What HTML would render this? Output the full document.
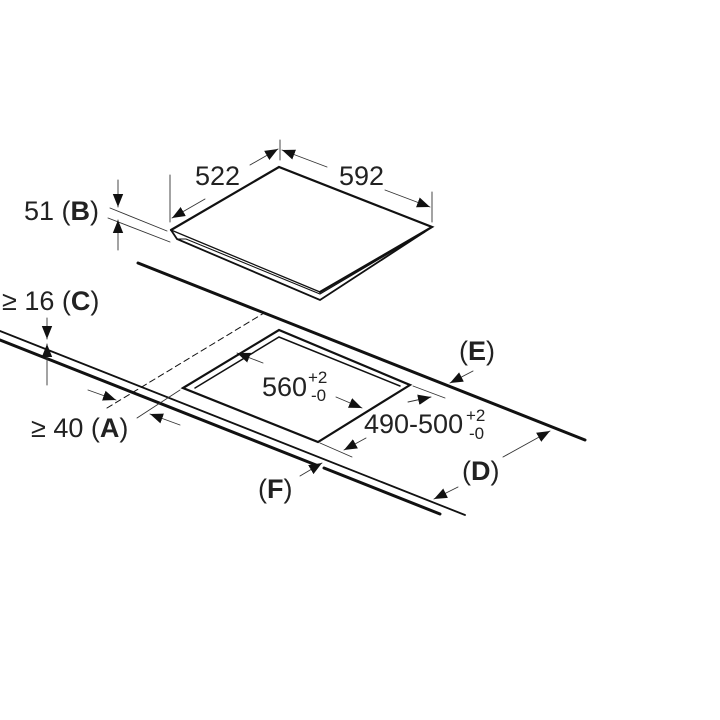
<!DOCTYPE html>
<html><head><style>html,body{margin:0;padding:0;background:#fff}svg{display:block}text{font-family:"Liberation Sans",sans-serif;fill:#222}</style></head><body>
<svg width="720" height="720" viewBox="0 0 720 720" xmlns="http://www.w3.org/2000/svg">
<defs><marker id="a" viewBox="0 0 10 10" refX="10" refY="5" markerWidth="13" markerHeight="13" orient="auto-start-reverse" markerUnits="userSpaceOnUse"><path d="M0,1 L10,5 L0,9 z" fill="#111"/></marker></defs>
<g stroke="#111" fill="none" stroke-linecap="round">
<!-- hob -->
<path d="M171,230 L279,167 L432,227 L320,292" stroke-width="2.2" fill="#fff"/>
<path d="M171,230 L320,292" stroke-width="1.3"/>
<path d="M171,230 L177,239 L320,300 L432,227" stroke-width="1.8"/>
<path d="M177,239 L186,239 L320,294 L425,232" stroke-width="1.1"/>
<!-- countertop -->
<path d="M138,263 L585,440" stroke-width="3"/>
<path d="M0,331 L465,515" stroke-width="1.8"/>
<path d="M0,340 L316,465 M324,468 L440,514" stroke-width="3"/>
<!-- cutout -->
<path d="M183,388 L279,330 L410,385 L318,442 Z" stroke-width="2.2"/>
<path d="M195,388 L279,337 L400,386" stroke-width="1.5"/>
<path d="M107,408 L264,313" stroke-width="1" stroke-dasharray="6,4"/>
<g stroke-width="0.9" stroke="#333">
<line x1="137" y1="418" x2="180" y2="390"/>
<line x1="413" y1="386" x2="445" y2="398"/>
<line x1="320" y1="443" x2="352" y2="457"/>
<line x1="170" y1="175" x2="170" y2="222"/>
<line x1="280" y1="140" x2="280" y2="160"/>
<line x1="432" y1="192" x2="432" y2="222"/>
<line x1="110" y1="208" x2="167" y2="231"/>
<line x1="108" y1="218" x2="170" y2="242"/>
<line x1="47" y1="318" x2="47" y2="339" marker-end="url(#a)"/>
<line x1="47" y1="385" x2="47" y2="344" marker-end="url(#a)"/>
<line x1="118" y1="180" x2="118" y2="207" marker-end="url(#a)"/>
<line x1="118" y1="250" x2="118" y2="220" marker-end="url(#a)"/>
<line x1="88" y1="390" x2="116" y2="400" marker-end="url(#a)"/>
<line x1="180" y1="425" x2="150" y2="414" marker-end="url(#a)"/>
<line x1="205" y1="199" x2="172" y2="218" marker-end="url(#a)"/>
<line x1="250" y1="165" x2="278" y2="149" marker-end="url(#a)"/>
<line x1="327" y1="167" x2="282" y2="150" marker-end="url(#a)"/>
<line x1="385" y1="190" x2="430" y2="207" marker-end="url(#a)"/>
<line x1="263" y1="363" x2="237" y2="353" marker-end="url(#a)"/>
<line x1="336" y1="397" x2="362" y2="408" marker-end="url(#a)"/>
<line x1="366" y1="438" x2="344" y2="450" marker-end="url(#a)"/>
<line x1="408" y1="402" x2="431" y2="397" marker-end="url(#a)"/>
<line x1="473" y1="371" x2="450" y2="383" marker-end="url(#a)"/>
<line x1="458" y1="487" x2="434" y2="499" marker-end="url(#a)"/>
<line x1="503" y1="457" x2="550" y2="431" marker-end="url(#a)"/>
<line x1="300" y1="476" x2="322" y2="463" marker-end="url(#a)"/>
</g>
</g>
<g font-size="27">
<text x="195" y="185">522</text>
<text x="339" y="185">592</text>
<text x="24" y="220">51 (<tspan font-weight="bold">B</tspan>)</text>
<text x="2" y="310">≥ 16 (<tspan font-weight="bold">C</tspan>)</text>
<text x="31" y="437">≥ 40 (<tspan font-weight="bold">A</tspan>)</text>
<text x="262" y="396">560</text>
<text x="308" y="383" font-size="17">+2</text>
<text x="311" y="401" font-size="17">-0</text>
<text x="364" y="433">490-500</text>
<text x="466" y="421" font-size="17">+2</text>
<text x="469" y="439" font-size="17">-0</text>
<text x="459" y="360">(<tspan font-weight="bold">E</tspan>)</text>
<text x="462" y="480">(<tspan font-weight="bold">D</tspan>)</text>
<text x="258" y="498">(<tspan font-weight="bold">F</tspan>)</text>
</g>
</svg>
</body></html>
